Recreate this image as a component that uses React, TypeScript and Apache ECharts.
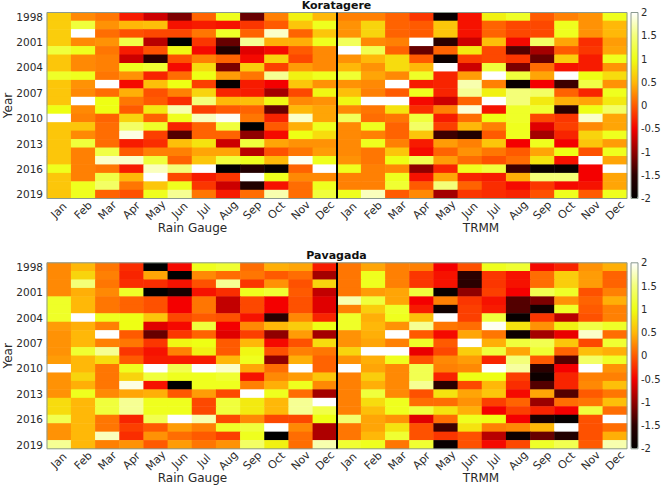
import React, { useEffect, useRef } from "react";
import * as echarts from "echarts";

const years = ["1998","1999","2000","2001","2002","2003","2004","2005","2006","2007","2008","2009","2010","2011","2012","2013","2014","2015","2016","2017","2018","2019"];
const months = ["Jan","Feb","Mar","Apr","May","Jun","Jul","Aug","Sep","Oct","Nov","Dec"];
const colLabels = [...months, ...months];

const koratagereGauge = [
[0.65,0.25,0.15,-0.35,-0.7,-1.1,0.05,1.05,-1.2,0.2,0.9,0.5],
[0.65,1.2,0.3,0.5,0.55,-0.4,-0.35,-0.4,-0.2,0,0.6,1.05],
[0.65,2,0.1,-0.05,-0.1,-0.1,0.15,1.1,0.05,1.8,0.05,0.6],
[0.65,0.25,0.3,1.25,-0.8,-2,-0.2,-1.2,1.6,0.45,0.45,1.05],
[1.2,1.05,0.15,-0.35,-0.05,0.95,-0.45,-1.6,-0.6,-0.45,0,0.25],
[0.6,0.25,0.2,-0.7,-1.5,-0.05,0.2,0.05,-0.45,0.7,-0.1,0.25],
[0.6,0.25,0.2,1.05,1.15,-0.45,0.75,-1.1,0.65,-0.15,0.35,0.25],
[1.1,1.05,0.15,0.3,-0.3,0.1,1,0.35,0.15,1.6,0.9,1.05],
[0.6,0.3,2,-0.45,0.55,1,-0.15,-1.9,-0.35,-0.5,0.6,0.3],
[0.6,0.25,0.1,0.45,-0.05,0.2,0.7,-0.3,-0.35,-0.9,-0.1,0.95],
[0.6,2,1,0.15,0,-0.25,1.5,0.5,0.55,0.95,0.25,0.3],
[1,0.25,1,0,0.85,1.7,-0.15,0,0.05,-1.2,0.5,0.4],
[2,0.2,0.05,0.7,0.05,1.05,1.75,1.95,0.15,-0.3,1.8,0.4],
[0.6,0.6,0.1,1.4,1.1,-0.3,0.05,1.2,-2,0,0.45,1.05],
[0.6,0.25,0.1,1.9,-0.15,-1.3,0.05,0.05,-1,-0.45,1,0.75],
[0.6,1.2,0.1,-0.35,-0.25,0.55,0.8,-0.7,1.2,0.4,0.3,0.3],
[0.6,0.2,1.25,0,0.2,0.2,0.4,0.4,-0.8,-0.05,0.15,0.35],
[0.6,0.2,1.8,1.8,1.2,0.05,0.6,1.2,1.05,0.5,1.95,1.05],
[1.05,0.2,0.15,-0.35,1.75,1.5,2,-2,-1.6,-1.9,0.05,2],
[0.6,0.2,1.25,0.5,2,-0.1,-0.35,-0.2,2,1.05,0.25,0.25],
[0.6,1.05,1.4,0.15,0.6,1.05,-0.2,-0.7,-1.6,-0.4,0.1,1.05],
[0.6,1.05,0.05,-0.05,1.05,1.6,0.15,-0.35,0.1,1.7,0.1,1.2],
];
const koratagereTrmm = [
[0.2,0.2,0.05,-0.2,-1.9,-0.4,0.9,1.1,0,0.2,0.3,1.05],
[0.3,0.7,0.05,0,0.6,-0.4,0.05,-0.1,-0.1,1.05,0.3,0.5],
[0.3,0.7,0.05,0,0.6,-0.4,0.05,-0.1,-0.1,1.05,0.3,0.5],
[1.35,0.25,0.2,2,-1.5,-0.7,0.55,-0.45,1.4,0.4,-0.25,0.35],
[2,1.3,0.05,-1.2,0.05,0.85,-0.1,-1.3,-0.9,0,-0.2,0.4],
[0.3,0.5,0.75,0,-1.85,-0.15,-0.1,-0.2,-1.2,0.65,-0.35,1.05],
[0.5,0.3,0.75,0.5,2,-0.7,1.2,-1.1,0.1,-0.4,-0.35,0.3],
[1.15,0.4,0.25,1.1,-0.3,0.35,2,1.2,0.4,2,1,0.75],
[0.3,0.25,2,-0.35,-0.3,1.7,0.2,-1.9,-0.5,-1.4,1.25,0.3],
[0.55,0.2,0,1.05,-0.3,1.6,0.9,1.5,1.4,0.05,-0.3,1.05],
[0.95,2,2,-0.45,-0.7,0.05,2,1.5,0.85,0.45,0.4,0.85],
[0.25,0.15,0.8,-0.25,0.2,1.85,-0.4,1.1,1.15,-1.5,1,1.4],
[1.35,0.1,0.15,1.2,-0.35,0.1,1,1.1,-0.1,-0.2,1.8,0.4],
[0.25,1.05,0.05,1.4,-0.15,0.5,0.2,1.05,-0.6,-0.15,0.25,0.4],
[0.25,0.2,0.05,0.6,-1.4,-1.6,0,1.05,-0.9,-0.3,0.7,1.05],
[0.25,1.05,0.2,-0.35,0.35,0.2,0.6,-0.5,1.05,-0.5,0.6,0.35],
[0.25,0.15,0.6,-0.45,0.05,0.3,0.15,0,0.4,1,-0.05,1.05],
[0.3,0.15,1,1.3,0.35,0.1,-0.05,0.1,0.8,-0.4,2,0.4],
[1.05,0.2,0.25,-1,-0.3,1.05,1.2,-1.4,-1.9,-1.9,-0.5,2],
[0.2,0.2,1.05,-0.4,0.4,-0.3,-0.35,0.45,1.5,1.5,-0.5,0.4],
[0.2,0.2,1.15,0,1.5,0.05,-0.25,-0.45,-0.2,-0.45,-0.4,0.4],
[1.05,1.75,0,0.25,-0.9,-0.2,-0.25,-0.3,-0.05,1.05,0,1.05],
];
const pavagadaGauge = [
[0.25,0.5,0.15,-0.25,-2,-0.45,1.05,1.15,0.1,0.45,0.4,-0.35],
[0.25,0.7,0.2,-0.3,0.4,-2,0.25,0.1,0.15,0,0.1,-0.9],
[0.25,1.5,0.15,-0.25,-0.25,-0.4,-0.05,1.6,-0.2,0.3,-0.05,0.7],
[0.25,0.45,0.25,1.1,-2,-1.7,-0.4,-0.25,1.05,1.15,0,-0.75],
[1.1,0.5,0.15,0.05,-0.05,-0.5,0.15,-0.75,-0.1,-0.5,-0.05,-0.6],
[1.1,0.5,0.15,0.05,-0.05,-0.5,0.15,-0.75,-0.1,-0.5,-0.05,-0.6],
[1.1,2,1.05,1,0.6,-0.1,0,-0.05,-0.4,-1.5,0.25,-0.3],
[0.35,0.45,0.2,1,-0.6,-0.45,1.2,-0.5,0.25,0.5,0.65,1],
[0.3,0.5,2,0,-1.2,-0.2,0.05,-0.6,-0.15,-1,0.35,-0.9],
[0.3,0.5,0.2,0.15,-0.2,0.95,1,0,0.5,-0.45,-0.05,0.75],
[0.3,1.15,1.6,-0.2,-0.4,0.2,0.9,0,0.95,-0.05,0.2,0.15],
[0.35,0.5,0.75,0,-0.35,-0.35,-0.35,0.5,1.05,-1,0.45,0.05],
[2,0.5,0.15,1.05,2,1.3,2,1.8,0.4,0.1,2,0.05],
[0.3,0.7,0.15,0.7,1.2,1.05,1.05,1.15,-0.4,0.25,0.35,0.6],
[0.3,0.45,0.15,1.9,-0.4,-2,1.05,1.05,0.2,0.45,1.05,0.25],
[0.3,1.05,0.25,0.4,0.45,0,0.35,-0.1,2,1.05,0.1,-0.9],
[0.75,0.5,1.2,1.6,1.05,1.05,-0.1,1.2,0.85,0.5,1.6,2],
[0.75,0.5,1.2,1.6,1.05,1.05,-0.1,1.2,0.85,0.5,1.6,1.25],
[1.3,0.5,0.15,-0.3,1.3,2,1.7,-0.1,0.25,-0.1,-0.1,1],
[0.3,0.5,0.15,-0.15,0,0.35,0.2,1.1,1.2,2,0.25,-0.85],
[0.3,0.5,1.75,-0.25,0.3,0.1,0,-0.15,1.05,-2,0.1,-0.85],
[1.6,0.5,0.2,0.3,0,0.35,0.15,0.3,1.4,0.9,0.1,1.7],
];
const pavagadaTrmm = [
[0.15,0.4,0.2,0.2,-0.5,-0.05,1.05,1.15,-0.45,-0.3,0.3,0.45],
[0.15,1.05,0.2,-0.2,-0.4,-1.5,-0.2,-0.4,0.1,0.65,0.35,0.05],
[0.15,1.05,0.2,-0.2,-0.4,-1.5,-0.2,-0.4,0.1,0.65,0.35,0.05],
[0.15,0.35,0.4,1.2,-1.9,-1,-0.15,-0.5,1.3,1.1,-0.05,0.2],
[1.7,1.2,0.4,-0.5,0.2,-0.2,-0.4,-1.3,-1.1,0.3,0.05,0.45],
[0.2,0.65,1.1,-0.35,-1.8,-0.15,-0.35,-1.3,-1.8,1.1,0,0.2],
[1.1,0.45,1.05,0.55,2,-0.15,1.2,-1.9,-0.2,-0.8,-0.05,0.2],
[1.1,0.5,0.3,1.6,0.15,0.1,1.95,0.8,0.3,0.9,1.25,1.1],
[0.3,0.45,2,0,-0.45,0.4,0.15,-1.85,-0.9,-0.55,1.8,0.1],
[0.3,0.4,0.2,1.1,0,2,0.45,1.2,1.3,0.6,-0.1,1.15],
[0.7,2,2,-0.55,-0.1,0.65,1.2,0.4,1.15,0.05,0.55,0.45],
[0.3,0.45,1.05,-0.05,0.25,0.35,-0.3,1.5,0,-1.3,1.4,1.1],
[2,0.4,0.25,1.3,0.2,0.25,2,1.65,-1.5,-0.5,2,0.3],
[0.2,0.65,0.25,1.3,-0.3,1,1,-0.15,-1.85,-0.3,0.2,0.2],
[0.2,0.45,0.25,1.6,-1.5,-0.1,0.5,-0.25,-1.3,-0.3,0.25,0.55],
[0.2,1.2,0.25,-0.05,0.8,0.4,0.6,-0.45,0.4,-1.3,0,0.15],
[0.2,0.75,1.05,0.1,0.1,0.3,-0.15,0.05,-0.95,0.1,0.15,0.55],
[0.2,0.55,1.05,1.2,0.8,0.45,-0.5,-0.15,-0.3,-0.5,1.2,0.1],
[1.45,0.4,0.3,-0.6,0.1,1.05,1,-0.5,-1.7,-1.9,-0.05,2],
[0.15,0.4,0.8,-0.05,-1.4,0.8,0.2,0.25,0.5,2,-0.05,0.1],
[0.15,0.5,1.15,-0.05,-0.2,-0.05,-0.8,-1.85,-1.2,-1.6,-0.05,0.45],
[1.15,1.05,0.15,1.15,-1.9,-0.05,-0.45,-0.1,1.1,1.3,0,1.7],
];

const hotColors = ["#000000","#2a0000","#900000","#f40000","#ff5a00","#ffb808","#eeff14","#f4ff78","#ffffff"];
const textColor = "#2a2a2a";
const fontFamily = "'DejaVu Sans'";

const GL = 47, GW = 580, GH = 186, TOPS = [12.5, 262.8];
const BAR_L = 631, BAR_W = 7;
const FRAME = "#8b9a8f";

function cells(gauge: number[][], trmm: number[][]) {
  const out: number[][] = [];
  years.forEach((_, r) => {
    gauge[r].forEach((v, c) => out.push([c, r, v]));
    trmm[r].forEach((v, c) => out.push([c + 12, r, v]));
  });
  return out;
}

export default function App() {
  const ref = useRef<HTMLDivElement>(null);
  useEffect(() => {
    const chart = echarts.init(ref.current!, undefined, { renderer: "svg" });
    const titles = ["Koratagere", "Pavagada"];
    const graphics: any[] = [];
    TOPS.forEach((t, i) => {
      graphics.push(
        { type: "text", x: GL + GW / 2 - 0.5, y: t - 7, z: 20, style: { text: titles[i], fill: "#111", font: `bold 11px ${fontFamily}`, textAlign: "center", textVerticalAlign: "middle" } },
        { type: "text", x: GL + GW / 4 + 0.5, y: t + GH + 29, z: 20, style: { text: "Rain Gauge", fill: textColor, font: `12px ${fontFamily}`, textAlign: "center", textVerticalAlign: "middle" } },
        { type: "text", x: GL + (3 * GW) / 4 - 1, y: t + GH + 29, z: 20, style: { text: "TRMM", fill: textColor, font: `12px ${fontFamily}`, textAlign: "center", textVerticalAlign: "middle" } },
        { type: "rect", z: 20, shape: { x: GL, y: t, width: GW, height: GH }, style: { fill: "none", stroke: FRAME, lineWidth: 1 } },
        { type: "rect", z: 20, shape: { x: BAR_L, y: t, width: BAR_W, height: GH }, style: { fill: "none", stroke: FRAME, lineWidth: 1 } },
        { type: "line", z: 20, shape: { x1: GL + GW / 2, y1: t, x2: GL + GW / 2, y2: t + GH }, style: { stroke: "#000", lineWidth: 2 } }
      );
    });
    chart.setOption({
      animation: false,
      backgroundColor: "#fff",
      grid: [
        { left: GL, width: GW, top: TOPS[0], height: GH, outerBoundsMode: "none" },
        { left: GL, width: GW, top: TOPS[1], height: GH, outerBoundsMode: "none" },
        { left: BAR_L, width: BAR_W, top: TOPS[0], height: GH, outerBoundsMode: "none" },
        { left: BAR_L, width: BAR_W, top: TOPS[1], height: GH, outerBoundsMode: "none" },
      ],
      xAxis: [0, 1].map((g) => ({
        type: "category", gridIndex: g, data: colLabels,
        axisLine: { show: false }, axisTick: { show: false }, splitLine: { show: false },
        axisLabel: { interval: 0, rotate: 45, align: "center", verticalAlign: "middle", margin: 12, color: textColor, fontFamily, fontSize: 11, hideOverlap: false },
      })).concat([2, 3].map((g) => ({ type: "value", gridIndex: g, show: false, min: 0, max: 1 } as any))),
      yAxis: [0, 1].map((g) => ({
        type: "category", gridIndex: g, data: years, inverse: true,
        name: "Year", nameLocation: "middle", nameGap: 33, nameRotate: 90, nameMoveOverlap: false,
        nameTextStyle: { color: textColor, fontFamily, fontSize: 12 },
        axisLine: { show: false }, axisTick: { show: false }, splitLine: { show: false },
        axisLabel: { interval: 2, margin: 4, color: textColor, fontFamily, fontSize: 10.5, hideOverlap: false },
      })).concat([2, 3].map((g) => ({
        type: "value", gridIndex: g, position: "right", min: -2, max: 2, interval: 0.5,
        axisLine: { show: false }, axisTick: { show: false }, splitLine: { show: false },
        axisLabel: { margin: 3, color: textColor, fontFamily, fontSize: 10, hideOverlap: false },
      } as any))),
      visualMap: TOPS.map((t, i) => ({
        type: "continuous", seriesIndex: i, min: -2, max: 2, calculable: false, realtime: false,
        left: BAR_L, top: t, itemWidth: BAR_W, itemHeight: GH, padding: 0, text: null, hoverLink: false,
        inRange: { color: hotColors },
      })),
      series: [
        { type: "heatmap", xAxisIndex: 0, yAxisIndex: 0, data: cells(koratagereGauge, koratagereTrmm), progressive: 0, emphasis: { disabled: true }, silent: true },
        { type: "heatmap", xAxisIndex: 1, yAxisIndex: 1, data: cells(pavagadaGauge, pavagadaTrmm), progressive: 0, emphasis: { disabled: true }, silent: true },
      ],
      graphic: graphics,
    });
    return () => chart.dispose();
  }, []);
  return <div ref={ref} style={{ width: 661, height: 485, position: "absolute", left: 0, top: 0 }} />;
}
